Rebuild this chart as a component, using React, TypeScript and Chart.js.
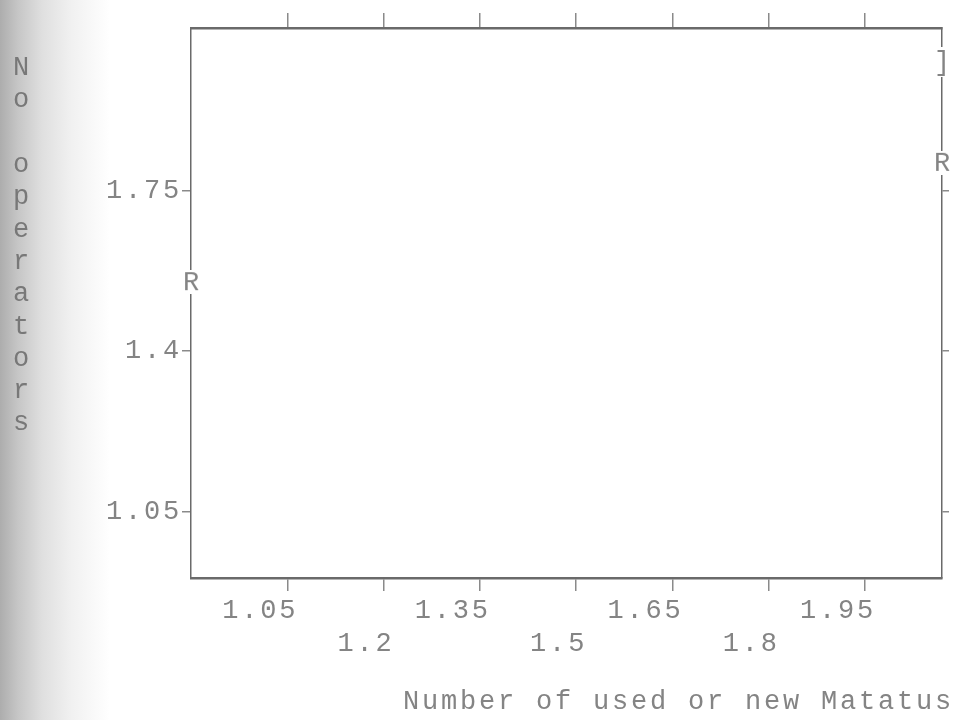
import React, { useEffect, useRef } from 'react';
import { Chart, registerables } from 'chart.js';

Chart.register(...registerables);

// ---- data ----
const xTicks = [1.05, 1.2, 1.35, 1.5, 1.65, 1.8, 1.95];
const xTickLabels = ['1.05', '1.2', '1.35', '1.5', '1.65', '1.8', '1.95'];
const yTicks = [1.05, 1.4, 1.75];
const yTickLabels = ['1.05', '1.4', '1.75'];
const xRange = [0.9, 2.07];
const yRange = [0.905, 2.104];
const pointX = [0.9, 2.07, 2.07];
const pointY = [1.55, 1.81, 2.03];
const pointGlyphs = ['R', 'R', ']'];
const xTitle = 'Number of used or new Matatus';
const yTitle = 'No operators';

// ---- styles ----
const FAMILY = '"Liberation Mono", "Courier New", monospace';
const TEXT = '#848484';
const AXIS = '#6a6a6a';
const TICK = '#8a8a8a';
const SPACING = '2.8px';

function glyphCanvas(ch: string): HTMLCanvasElement {
  const c = document.createElement('canvas');
  const w = ch === ']' ? 12 : 22;
  const h = ch === ']' ? 30 : 24;
  c.width = w;
  c.height = h;
  const g = c.getContext('2d')!;
  g.fillStyle = '#ffffff';
  g.fillRect(0, 0, w, h);
  g.fillStyle = TEXT;
  g.font = `27px ${FAMILY}`;
  g.textAlign = 'center';
  g.textBaseline = 'middle';
  g.fillText(ch, w / 2, h / 2 + 1);
  return c;
}

const spacingPlugin = {
  id: 'letterSpacing',
  beforeUpdate(chart: any) {
    chart.ctx.letterSpacing = SPACING;
  },
  beforeLayout(chart: any) {
    chart.ctx.letterSpacing = SPACING;
  },
  beforeDraw(chart: any) {
    chart.ctx.letterSpacing = SPACING;
  },
};

const yTitlePlugin = {
  id: 'stackedYTitle',
  afterDraw(chart: any) {
    const ctx = chart.ctx;
    ctx.save();
    ctx.letterSpacing = '0px';
    ctx.font = `27px ${FAMILY}`;
    ctx.fillStyle = '#787878';
    ctx.textAlign = 'center';
    ctx.textBaseline = 'middle';
    Array.from(yTitle).forEach((ch, i) => {
      if (ch !== ' ') ctx.fillText(ch, 21, 68 + i * 32.3);
    });
    ctx.restore();
  },
};

export default function App() {
  const ref = useRef<HTMLCanvasElement>(null);

  useEffect(() => {
    const glyphs = pointGlyphs.map(glyphCanvas);
    const tickFont = { family: FAMILY, size: 27, lineHeight: 1.22, weight: 'normal' as const };

    const chart = new Chart(ref.current!, {
      type: 'scatter',
      data: {
        datasets: [
          {
            data: pointX.map((x, i) => ({ x, y: pointY[i] })),
            pointStyle: glyphs as any,
            pointRadius: 11,
            showLine: false,
            clip: false as any,
            xAxisID: 'x',
            yAxisID: 'y',
          },
        ],
      },
      options: {
        responsive: false,
        animation: false,
        devicePixelRatio: 1,
        events: [],
        layout: { padding: 0 },
        plugins: {
          legend: { display: false },
          tooltip: { enabled: false },
          title: {
            display: true,
            text: xTitle,
            position: 'bottom',
            align: 'end',
            color: TEXT,
            font: { family: FAMILY, size: 27, lineHeight: 1.2, weight: 'normal' },
            padding: { top: 0, bottom: 2 },
          },
        },
        scales: {
          x: {
            type: 'linear',
            position: 'bottom',
            min: xRange[0],
            max: xRange[1],
            afterBuildTicks: (s: any) => {
              s.ticks = xTicks.map((v) => ({ value: v }));
            },
            afterFit: (s: any) => {
              s.height = 720 - 578 - 34.4;
            },
            ticks: {
              autoSkip: false,
              maxRotation: 0,
              minRotation: 0,
              align: 'end',
              labelOffset: 11,
              padding: 3.5,
              color: TEXT,
              font: tickFont,
              callback: (_v: any, i: number) => (i % 2 === 0 ? xTickLabels[i] : ['', xTickLabels[i]]),
            },
            grid: { drawOnChartArea: false, drawTicks: true, tickLength: 13, color: TICK, lineWidth: 1.5 },
            border: { display: true, color: AXIS, width: 2.5 },
          },
          x2: {
            type: 'linear',
            position: 'top',
            min: xRange[0],
            max: xRange[1],
            afterBuildTicks: (s: any) => {
              s.ticks = xTicks.map((v) => ({ value: v }));
            },
            afterFit: (s: any) => {
              s.height = 28;
            },
            ticks: { display: false },
            grid: { drawOnChartArea: false, drawTicks: true, tickLength: 15, color: TICK, lineWidth: 1.5 },
            border: { display: true, color: AXIS, width: 2.5 },
          },
          y: {
            type: 'linear',
            position: 'left',
            min: yRange[0],
            max: yRange[1],
            afterBuildTicks: (s: any) => {
              s.ticks = yTicks.map((v) => ({ value: v }));
            },
            afterFit: (s: any) => {
              s.width = 191;
            },
            ticks: {
              padding: 0,
              color: TEXT,
              font: tickFont,
              callback: (_v: any, i: number) => yTickLabels[i],
            },
            grid: { drawOnChartArea: false, drawTicks: true, tickLength: 9, color: TICK, lineWidth: 1.5 },
            border: { display: true, color: AXIS, width: 1.5 },
          },
          y2: {
            type: 'linear',
            position: 'right',
            min: yRange[0],
            max: yRange[1],
            afterBuildTicks: (s: any) => {
              s.ticks = yTicks.map((v) => ({ value: v }));
            },
            afterFit: (s: any) => {
              s.width = 11;
            },
            ticks: { display: false },
            grid: { drawOnChartArea: false, drawTicks: true, tickLength: 7, color: TICK, lineWidth: 1.5 },
            border: { display: true, color: AXIS, width: 1.5 },
          },
        },
      },
      plugins: [spacingPlugin, yTitlePlugin],
    } as any);

    return () => chart.destroy();
  }, []);

  return (
    <div
      style={{
        position: 'absolute',
        left: 0,
        top: 0,
        width: 954,
        height: 720,
        background:
          'linear-gradient(to right, #adadad 0px, #c6c6c6 18px, #dfdfdf 42px, #f1f1f1 72px, #ffffff 110px)',
      }}
    >
      <canvas ref={ref} width={954} height={720} style={{ display: 'block', width: 954, height: 720 }} />
    </div>
  );
}
